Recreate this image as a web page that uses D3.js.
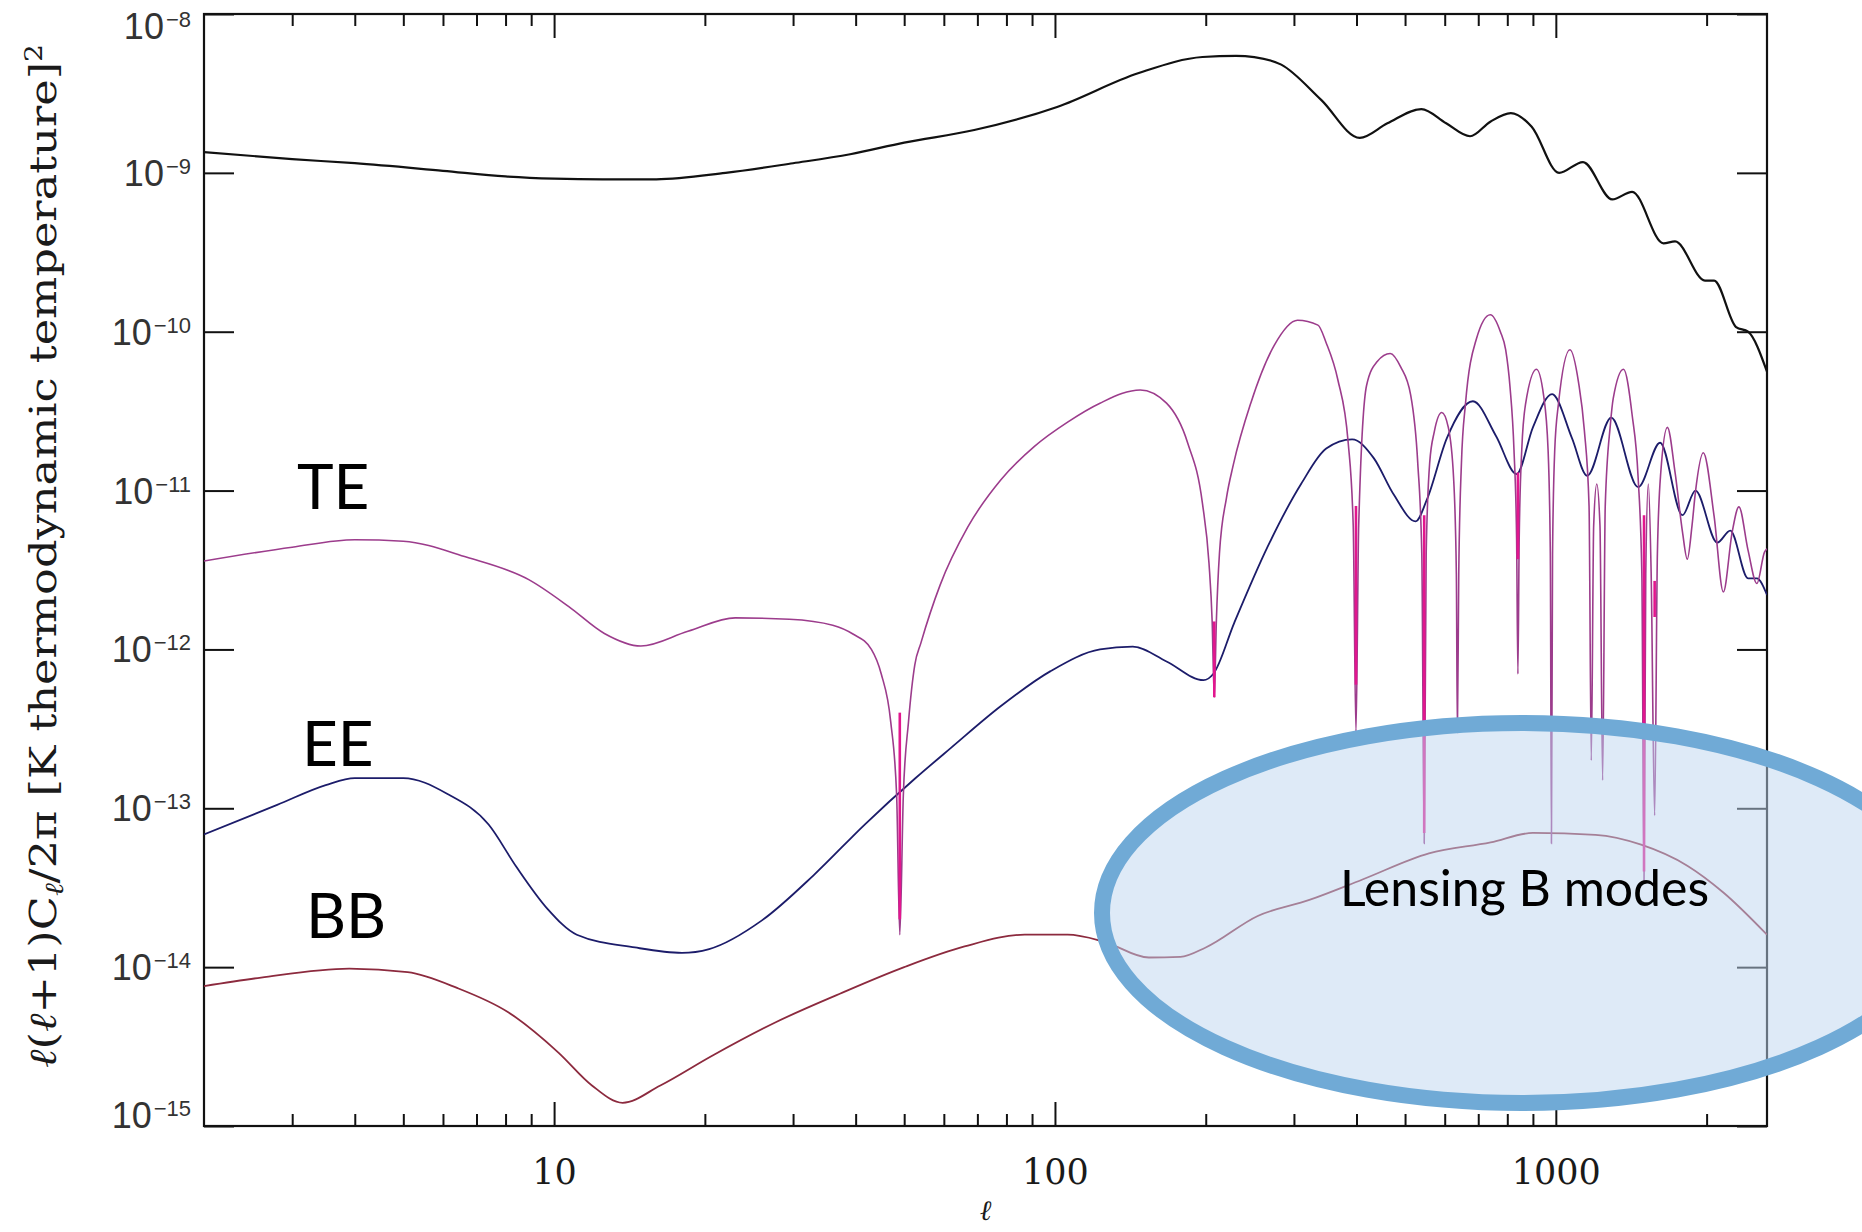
<!DOCTYPE html>
<html>
<head>
<meta charset="utf-8">
<script src="https://cdn.jsdelivr.net/npm/d3@7"></script>
<style>
  body { margin: 0; background: #fff; }
  svg { display: block; }
</style>
</head>
<body>
<div id="chart"></div>
<script>
// Spectra: [multipole l, l(l+1)C_l/2pi]
let ttData = [
  [2, 1.35e-9], [3, 1.22e-9], [4, 1.15e-9], [6, 1.03e-9], [8, 9.5e-10], [10, 9.2e-10],
  [12.5, 9.1e-10], [16, 9.1e-10], [22, 1.0e-9], [30, 1.15e-9], [39, 1.31e-9], [50, 1.55e-9],
  [69, 1.86e-9], [101, 2.6e-9], [147, 4.25e-9], [197, 5.36e-9], [230, 5.45e-9], [250, 5.35e-9],
  [283, 4.8e-9], [340, 2.88e-9], [406, 1.66e-9], [461, 2.05e-9], [539, 2.52e-9], [604, 2.05e-9],
  [674, 1.7e-9], [740, 2.1e-9], [813, 2.38e-9], [895, 1.95e-9], [1015, 1.0e-9], [1133, 1.17e-9],
  [1296, 6.8e-10], [1420, 7.6e-10], [1640, 3.6e-10], [1730, 3.7e-10], [1985, 2.1e-10],
  [2070, 2.1e-10], [2290, 1.07e-10], [2420, 1.0e-10], [2640, 5.6e-11]
];

// |TE|, the sharp dips are the zero crossings
let teData = [
  [2, 3.6e-12], [3, 4.4e-12], [4, 4.9e-12], [5, 4.8e-12], [6.7, 3.8e-12], [8.9, 2.75e-12],
  [10.7, 1.86e-12], [12.6, 1.26e-12], [14.9, 1.05e-12], [18.5, 1.3e-12], [23, 1.58e-12],
  [29.5, 1.55e-12], [36, 1.42e-12], [39.5, 1.25e-12], [43, 1.0e-12], [45, 7e-13], [47, 3.5e-13],
  [48.3, 1.2e-13], [49, 1.6e-14], [49.8, 1.2e-13], [51, 3.5e-13], [52.5, 8e-13], [54, 1.1e-12],
  [59, 2.55e-12], [67, 5.9e-12], [78, 1.17e-11], [91, 1.9e-11], [106, 2.7e-11], [123, 3.55e-11],
  [148, 4.3e-11], [167, 3.55e-11], [184, 2.0e-11], [197, 8.3e-12], [203, 3.5e-12], [206, 1.5e-12],
  [208, 5e-13], [210, 1.5e-12], [213, 4e-12], [220, 9e-12], [227, 1.45e-11], [246, 3.55e-11],
  [274, 8.2e-11], [305, 1.18e-10], [335, 1.1e-10], [348, 8.5e-11], [367, 5.0e-11], [385, 2.0e-11],
  [394, 6e-12], [399, 3e-13], [404, 6e-12], [419, 4.6e-11], [440, 6.5e-11], [467, 7.3e-11],
  [490, 6e-11], [513, 4e-11], [530, 1.5e-11], [540, 4e-12], [546, 6e-14], [551, 4e-12],
  [560, 1.5e-11], [572, 2.35e-11], [592, 3.1e-11], [610, 2.5e-11], [625, 1.2e-11], [633, 3e-12],
  [636, 3e-13], [640, 3e-12], [648, 1.5e-11], [660, 3.5e-11], [694, 9e-11], [740, 1.28e-10],
  [775, 1.0e-10], [794, 7.7e-11], [810, 4.5e-11], [825, 1.8e-11], [835, 5e-12], [840, 7e-13],
  [845, 5e-12], [855, 1.8e-11], [870, 3.5e-11], [915, 5.8e-11], [945, 4e-11], [965, 1.8e-11],
  [975, 4e-12], [980, 6e-14], [985, 4e-12], [995, 1.8e-11], [1012, 3.5e-11], [1067, 7.7e-11],
  [1110, 4.8e-11], [1140, 2.4e-11], [1165, 8e-12], [1177, 2e-13], [1190, 6e-12], [1207, 1.1e-11],
  [1225, 6e-12], [1240, 1.5e-13], [1255, 8e-12], [1285, 2.6e-11], [1302, 3.8e-11], [1365, 5.8e-11],
  [1420, 3e-11], [1460, 1.2e-11], [1485, 3e-12], [1500, 3.5e-14], [1512, 3e-12], [1530, 1.1e-11],
  [1550, 3e-12], [1575, 9e-14], [1595, 4e-12], [1620, 1.3e-11], [1670, 2.5e-11], [1730, 1.3e-11],
  [1790, 5.5e-12], [1830, 3.7e-12], [1870, 6e-12], [1900, 9.8e-12], [1970, 1.73e-11],
  [2070, 6.9e-12], [2160, 2.3e-12], [2250, 5.5e-12], [2320, 7.9e-12], [2420, 4.2e-12],
  [2520, 2.6e-12], [2610, 4.1e-12], [2640, 4.3e-12]
];

// brighter magenta parts of the TE dips: [l, top, bottom]
let teSpikes = [
  [49, 4.0e-13, 2.0e-14], [208, 1.5e-12, 5e-13], [399, 8e-12, 6e-13], [546, 7e-12, 7e-14],
  [840, 1.3e-11, 3.7e-12], [1500, 7e-12, 4e-14], [1575, 2.7e-12, 1.6e-12]
];

let eeData = [
  [2, 6.85e-14], [2.8, 1.05e-13], [3.5, 1.4e-13], [4, 1.55e-13], [5, 1.55e-13], [6.1, 1.24e-13],
  [7.4, 7.9e-14], [8.4, 4.3e-14], [9.7, 2.33e-14], [11.1, 1.6e-14], [14.5, 1.33e-14], [18, 1.23e-14],
  [20.4, 1.3e-14], [26, 1.97e-14], [33, 3.8e-14], [41.7, 7.9e-14], [52.7, 1.55e-13], [62, 2.4e-13],
  [78, 4.4e-13], [98, 7.3e-13], [123, 1.0e-12], [143, 1.04e-12], [167, 8.4e-13], [198, 6.4e-13],
  [207, 7e-13], [228, 1.47e-12], [266, 4.45e-12], [310, 1.1e-11], [348, 1.84e-11], [392, 2.1e-11],
  [433, 1.6e-11], [475, 9.4e-12], [525, 6.4e-12], [553, 8.8e-12], [606, 2.14e-11], [683, 3.65e-11],
  [760, 2.2e-11], [835, 1.27e-11], [900, 2.5e-11], [983, 4.05e-11], [1077, 2.14e-11],
  [1155, 1.24e-11], [1290, 2.88e-11], [1460, 1.05e-11], [1615, 2.0e-11], [1790, 7.0e-12],
  [1900, 1.0e-11], [2100, 4.7e-12], [2230, 5.6e-12], [2420, 2.8e-12], [2520, 2.8e-12], [2640, 2.2e-12]
];

let bbData = [
  [2, 7.6e-15], [2.6, 8.6e-15], [3.9, 9.8e-15], [5.1, 9.3e-15], [6.4, 7.4e-15], [8.1, 5.2e-15],
  [10.2, 2.9e-15], [11.9, 1.8e-15], [13.7, 1.4e-15], [16.3, 1.8e-15], [20.6, 2.75e-15],
  [27.7, 4.5e-15], [37.2, 6.8e-15], [50, 1.0e-14], [66, 1.35e-14], [87, 1.6e-14], [106, 1.6e-14],
  [125, 1.45e-14], [154, 1.15e-14], [178, 1.16e-14], [200, 1.33e-14], [254, 2.1e-14],
  [322, 2.65e-14], [410, 3.55e-14], [558, 5.2e-14], [741, 6.1e-14], [900, 7.0e-14],
  [1200, 6.8e-14], [1480, 5.9e-14], [1830, 4.35e-14], [2160, 2.95e-14], [2640, 1.6e-14]
];

let xMajor = [10, 100, 1000];
let yExponents = [-15, -14, -13, -12, -11, -10, -9, -8];

// Layout
let width = 1862;
let height = 1232;
let plotLeft = 204, plotRight = 1767, plotTop = 14, plotBottom = 1126;

let svg = d3
    .select("#chart")
    .append("svg")
    .attr("width", width)
    .attr("height", height);

svg.append("rect").attr("width", width).attr("height", height).attr("fill", "#fff");

let xScale = d3.scaleLog().domain([2, 2640]).range([plotLeft, plotRight]);
let yScale = d3.scaleLog().domain([1e-15, 1e-8]).range([plotBottom, plotTop]);

// minor ticks: every integer multiple inside the domain, minus the decades
let xMinor = xScale.ticks().filter(function(d) {
    return xMajor.indexOf(d) < 0 && d > 2;
});
let yDecades = yExponents.map(function(e) { return Math.pow(10, e); });

// Axes, all ticks pointing into the frame
function noDomain(g) { g.select(".domain").remove(); }

svg.append("g")
    .attr("transform", "translate(0," + plotBottom + ")")
    .call(d3.axisBottom(xScale).tickValues(xMinor).tickSize(-12).tickFormat(""))
    .call(noDomain);
svg.append("g")
    .attr("transform", "translate(0," + plotTop + ")")
    .call(d3.axisTop(xScale).tickValues(xMinor).tickSize(-12).tickFormat(""))
    .call(noDomain);
svg.append("g")
    .attr("transform", "translate(0," + plotTop + ")")
    .call(d3.axisTop(xScale).tickValues(xMajor).tickSize(-24).tickFormat(""))
    .call(noDomain);

let xBottom = svg.append("g")
    .attr("class", "xAxis")
    .attr("transform", "translate(0," + plotBottom + ")")
    .call(d3.axisBottom(xScale).tickValues(xMajor).tickSize(-24).tickPadding(33).tickFormat(d3.format("d")))
    .call(noDomain);
xBottom.selectAll("text")
    .attr("font-family", "DejaVu Serif")
    .attr("font-size", 35)
    .attr("fill", "#1a1a1a");

svg.append("g")
    .attr("transform", "translate(" + plotLeft + ",0)")
    .call(d3.axisLeft(yScale).tickValues(yDecades).tickSize(-30).tickFormat(""))
    .call(noDomain);
svg.append("g")
    .attr("transform", "translate(" + plotRight + ",0)")
    .call(d3.axisRight(yScale).tickValues(yDecades).tickSize(-30).tickFormat(""))
    .call(noDomain);

svg.selectAll(".tick line").attr("stroke", "#111").attr("stroke-width", 2);

// frame
svg.append("rect")
    .attr("x", plotLeft)
    .attr("y", plotTop)
    .attr("width", plotRight - plotLeft)
    .attr("height", plotBottom - plotTop)
    .attr("fill", "none")
    .attr("stroke", "#111")
    .attr("stroke-width", 2.2);

// y tick labels, 10 with a superscript exponent
let yLabels = svg.append("g").attr("class", "yLabels");
yExponents.forEach(function(e, i) {
    let y = yScale(Math.pow(10, e)) + 13;
    if (i === yExponents.length - 1) y += 12;   // top label sits below the frame edge
    if (i === 0) y -= 11;                       // bottom one sits above it
    let t = yLabels.append("text")
        .attr("x", 191)
        .attr("y", y)
        .attr("text-anchor", "end")
        .attr("font-family", "Liberation Sans")
        .attr("font-size", 36)
        .attr("fill", "#333");
    t.append("tspan").text("10");
    t.append("tspan")
        .attr("font-size", 22)
        .attr("dy", -12)
        .attr("dx", 2)
        .text("\u2212" + Math.abs(e));
});

// axis titles
svg.append("text")
    .attr("x", (plotLeft + plotRight) / 2)
    .attr("y", 1220)
    .attr("text-anchor", "middle")
    .attr("font-family", "DejaVu Serif")
    .attr("font-style", "italic")
    .attr("font-size", 28)
    .attr("fill", "#1a1a1a")
    .text("\u2113");

let yTitle = svg.append("text")
    .attr("transform", "translate(56,556)rotate(-90)")
    .attr("text-anchor", "middle")
    .attr("font-family", "DejaVu Serif")
    .attr("font-size", 38)
    .attr("fill", "#1a1a1a")
    .attr("textLength", 1024)
    .attr("lengthAdjust", "spacingAndGlyphs");
yTitle.append("tspan").attr("font-style", "italic").text("\u2113");
yTitle.append("tspan").text("(");
yTitle.append("tspan").attr("font-style", "italic").text("\u2113");
yTitle.append("tspan").text("+1)C");
yTitle.append("tspan").attr("font-style", "italic").attr("font-size", 26).attr("dy", 7).text("\u2113");
yTitle.append("tspan").attr("dy", -7).text("/2\u03c0 [K thermodynamic temperature]");
yTitle.append("tspan").attr("font-size", 24).attr("dy", -14).text("2");

// curves
svg.append("clipPath").attr("id", "plotClip")
    .append("rect")
    .attr("x", plotLeft).attr("y", plotTop)
    .attr("width", plotRight - plotLeft).attr("height", plotBottom - plotTop);

let line = d3.line()
    .x(function(d) { return xScale(d[0]); })
    .y(function(d) { return yScale(d[1]); })
    .curve(d3.curveMonotoneX);

let curves = svg.append("g").attr("clip-path", "url(#plotClip)").attr("fill", "none");

curves.append("path").datum(bbData).attr("d", line)
    .attr("stroke", "#8c2a3e").attr("stroke-width", 1.8);
curves.append("path").datum(eeData).attr("d", line)
    .attr("stroke", "#1c1c6a").attr("stroke-width", 1.8);
curves.append("path").datum(teData).attr("d", line)
    .attr("stroke", "#9c3c8c").attr("stroke-width", 1.6);
curves.selectAll(".spike").data(teSpikes).enter()
    .append("line")
    .attr("class", "spike")
    .attr("x1", function(d) { return xScale(d[0]); })
    .attr("x2", function(d) { return xScale(d[0]); })
    .attr("y1", function(d) { return yScale(d[1]); })
    .attr("y2", function(d) { return yScale(d[2]); })
    .attr("stroke", "#e2168e")
    .attr("stroke-width", 2.6);
curves.append("path").datum(ttData).attr("d", line)
    .attr("stroke", "#111").attr("stroke-width", 2.2);

// spectrum names
let names = [["TE", 297, 509], ["EE", 302, 766], ["BB", 306, 938]];
svg.selectAll(".specName").data(names).enter()
    .append("text")
    .attr("class", "specName")
    .attr("x", function(d) { return d[1]; })
    .attr("y", function(d) { return d[2]; })
    .attr("font-family", "Lato")
    .attr("font-size", 62)
    .attr("fill", "#000")
    .text(function(d) { return d[0]; });

// highlight of the lensing B modes
svg.append("ellipse")
    .attr("cx", 1522)
    .attr("cy", 913)
    .attr("rx", 420)
    .attr("ry", 190)
    .attr("fill", "#bed5f0")
    .attr("fill-opacity", 0.5)
    .attr("stroke", "#70aad6")
    .attr("stroke-width", 16);

svg.append("text")
    .attr("x", 1340)
    .attr("y", 906)
    .attr("font-family", "Lato")
    .attr("font-size", 50)
    .attr("fill", "#000")
    .text("Lensing B modes");
</script>
</body>
</html>
